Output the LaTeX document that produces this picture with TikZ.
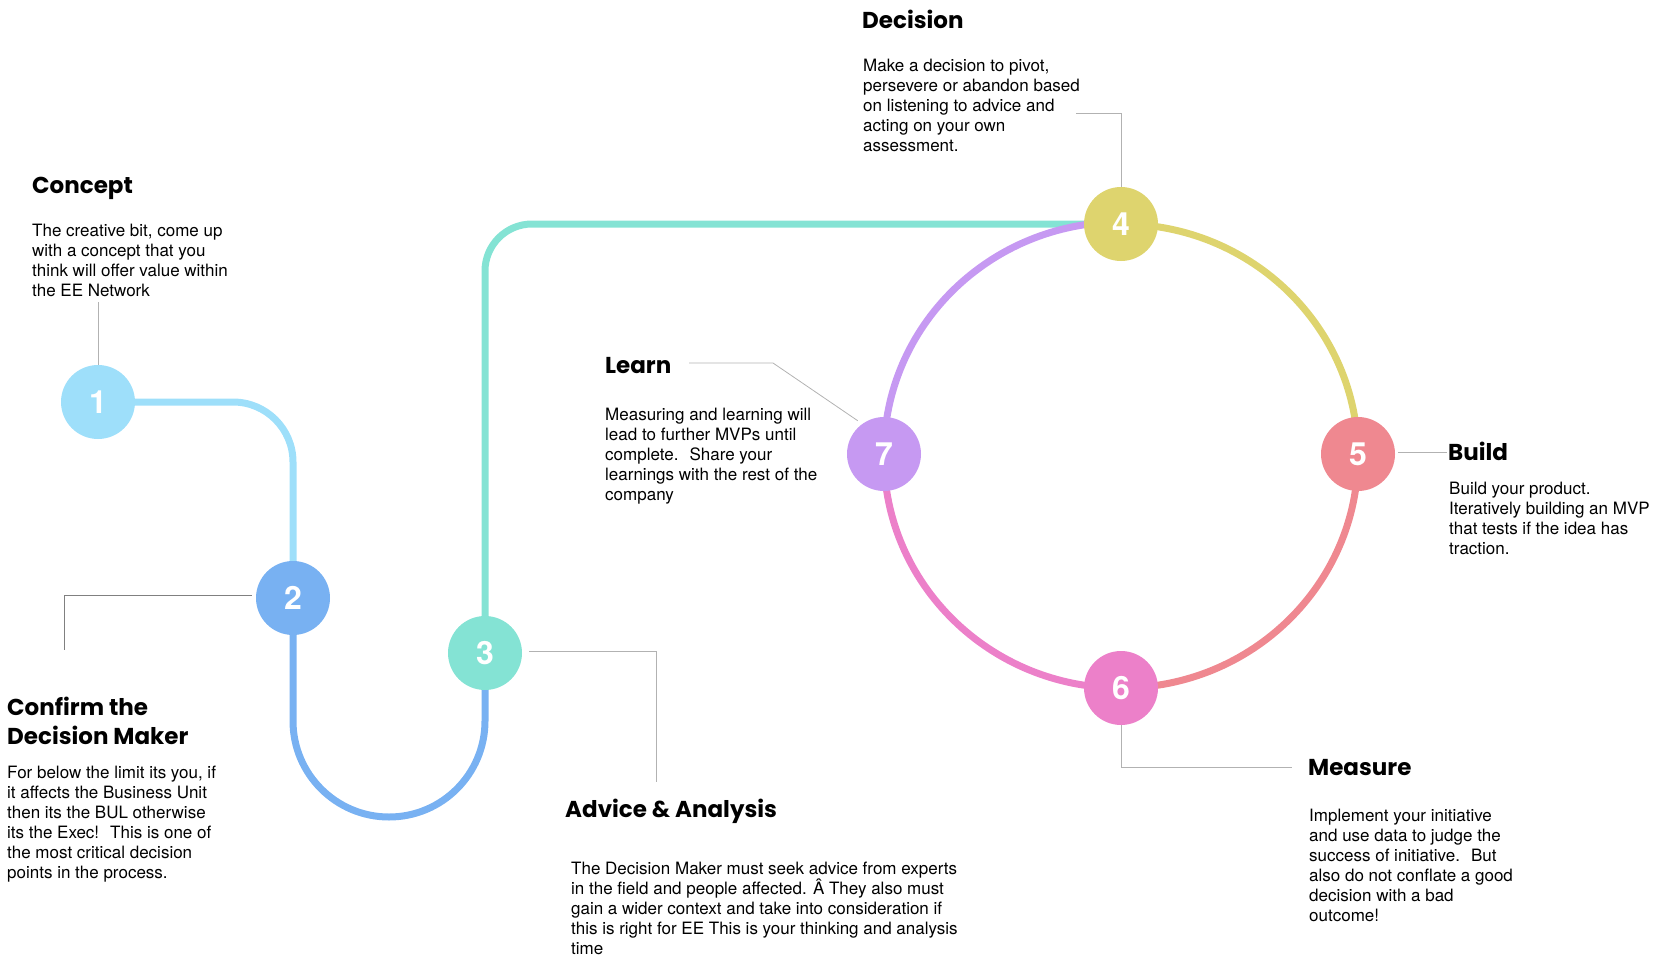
\documentclass[tikz,border=0pt]{standalone}
\usepackage{fontspec}
\setmainfont{TeX Gyre Heros}
\newfontfamily\headfont{Poppins}
\usetikzlibrary{backgrounds}
\definecolor{stepone}{HTML}{9EDFFA}
\definecolor{steptwo}{HTML}{78B1F2}
\definecolor{stepthree}{HTML}{84E3D4}
\definecolor{stepfour}{HTML}{DED46E}
\definecolor{stepfive}{HTML}{EF8890}
\definecolor{stepsix}{HTML}{EC80C9}
\definecolor{stepseven}{HTML}{C699F2}

\begin{document}
\begin{tikzpicture}[x=1pt,y=1pt,
  stage/.style={circle,fill=#1,minimum size=74pt,inner sep=0pt,text=white,font=\fontsize{32}{32}\selectfont\bfseries},
  track/.style={line width=7pt,draw=#1},
  lead/.style={draw=black!30,line width=0.8pt},
  head/.style={anchor=base west,inner sep=0pt,align=left,font=\headfont\bfseries\fontsize{23}{29}\selectfont},
  body/.style={anchor=base west,inner sep=0pt,align=left,font=\fontsize{17}{20}\selectfont}]
\useasboundingbox (0,0) rectangle (1674,-964);

% the seven stages
\node[stage=stepone]   (n1) at (98,-402) {1};
\node[stage=steptwo]   (n2) at (293,-598) {2};
\node[stage=stepthree] (n3) at (485,-653) {3};
\node[stage=stepfour]  (n4) at (1121,-224) {4};
\node[stage=stepfive]  (n5) at (1358,-454) {5};
\node[stage=stepsix]   (n6) at (1121,-688) {6};
\node[stage=stepseven] (n7) at (884,-454) {7};

% tracks between the stages
\begin{pgfonlayer}{background}
\draw[track=stepone,rounded corners=60] (n1.center) -| (n2.center);
\draw[track=steptwo,rounded corners=96] (n2.center) -- (293,-817) -- (485,-817) -- (n3.center);
\draw[track=stepthree,rounded corners=47] (n3.center) |- (n4.center);
\draw[track=stepfour] (n4.center) arc[start angle=90,end angle=0,x radius=237,y radius=232];
\draw[track=stepfive] (1358,-456) arc[start angle=0,end angle=-90,x radius=237,y radius=232];
\draw[track=stepsix] (n6.center) arc[start angle=270,end angle=180,x radius=237,y radius=232];
\draw[track=stepseven] (n7.center) arc[start angle=180,end angle=90,x radius=237,y radius=232];
\end{pgfonlayer}

% callout lines
\coordinate (c1) at (98,-302);
\coordinate (c2) at (64,-650);
\coordinate (c3) at (656,-782);
\coordinate (c4) at (1076,-113);
\coordinate (c5) at (1447,-452);
\coordinate (c6) at (1292,-767);
\coordinate (c7) at (689,-363);
\draw[lead] (n1.north) -- (c1);
\draw[lead,draw=black!50] (n2.west) ++(-4,3) -| (c2);
\draw[lead] (n3.east) ++(7,2) -| (c3);
\draw[lead] (n4.north) |- (c4);
\draw[lead] (n5.east) ++(3,2) -- (c5);
\draw[lead] (n6.south) |- (c6);
\draw[lead] (n7.north west) ++(0,7) -- (773,-363) -- (c7);

% headings (base = last line)
\node[head] (t1) at (32,-193) {Concept};
\node[head] (t2) at (7,-744) {Confirm the\\Decision Maker};
\node[head] (t3) at (565,-817) {Advice \& Analysis};
\node[head] (t4) at (862,-28) {Decision};
\node[head] (t5) at (1448,-460) {Build};
\node[head] (t6) at (1308,-775) {Measure};
\node[head] (t7) at (605,-373) {Learn};

% descriptions (base = last line)
\node[body] (d1) at (32,-296) {The creative bit, come up\\with a concept that you\\think will offer value within\\the EE Network};
\node[body] (d2) at (7,-878) {For below the limit its you, if\\it affects the Business Unit\\then its the BUL otherwise\\its the Exec!~ This is one of\\the most critical decision\\points in the process.};
\node[body] (d3) at (571,-954) {The Decision Maker must seek advice from experts\\in the field and people affected. Â They also must\\gain a wider context and take into consideration if\\this is right for EE This is your thinking and analysis\\time};
\node[body] (d4) at (863,-151) {Make a decision to pivot,\\persevere or abandon based\\on listening to advice and\\acting on your own\\assessment.};
\node[body] (d5) at (1449,-554) {Build your product.\\Iteratively building an MVP\\that tests if the idea has\\traction.};
\node[body] (d6) at (1309,-921) {Implement your initiative\\and use data to judge the\\success of initiative.~ But\\also do not conflate a good\\decision with a bad\\outcome!};
\node[body] (d7) at (605,-500) {Measuring and learning will\\lead to further MVPs until\\complete.~ Share your\\learnings with the rest of the\\company};
\end{tikzpicture}
\end{document}
